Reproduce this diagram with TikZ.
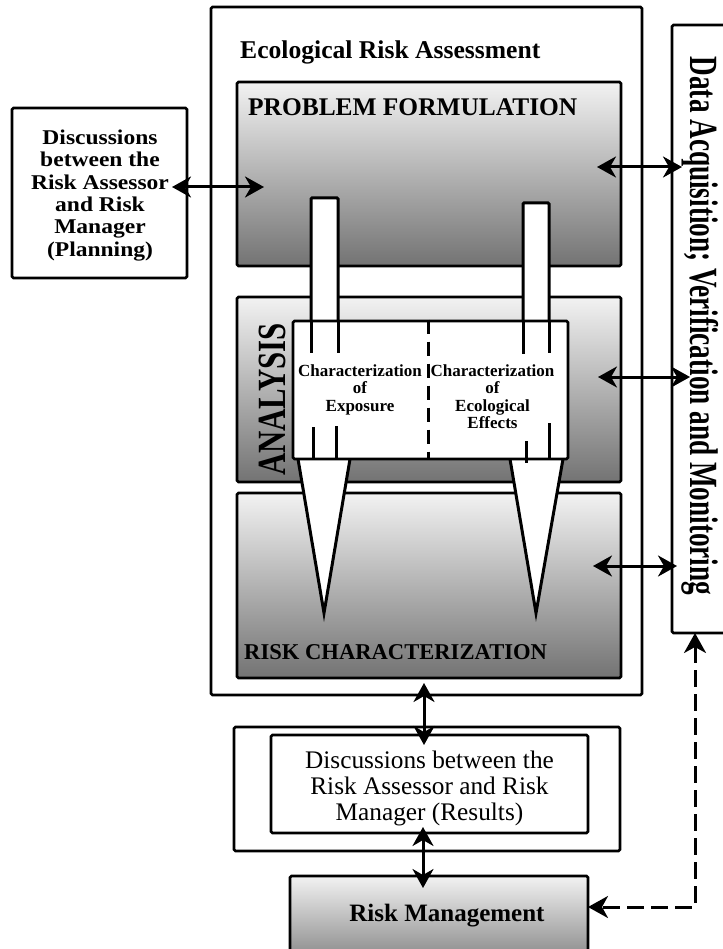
\documentclass[tikz,border=0pt]{standalone}
\usepackage{fontspec}
\setmainfont{Liberation Serif}
\usetikzlibrary{arrows.meta}
\begin{document}
\begin{tikzpicture}[x=1pt,y=-1pt,
  box/.style={draw, line width=2.6pt, rounded corners=1.5pt, inner sep=0pt},
  shadedbox/.style={box, top color=black!5, bottom color=black!55},
  wbox/.style={box, fill=white},
  lbl/.style={inner sep=0pt, font=\bfseries},
  thk/.style={line width=3pt},
  dbl/.style={line width=3pt, {Stealth[length=19pt,width=21pt,inset=6pt]}-{Stealth[length=19pt,width=21pt,inset=6pt]}},
  dsharrow/.style={line width=3pt, dash pattern=on 17pt off 7pt, {Stealth[length=20pt,width=22pt,inset=6pt]}-{Stealth[length=20pt,width=22pt,inset=6pt]}}
]
\useasboundingbox (0,0) rectangle (722,949);
\fill[white] (0,0) rectangle (722,949);

% outer frames
\node[wbox, minimum width=431pt, minimum height=688pt] (era) at (426.5,351) {};
\node[wbox, minimum width=60pt, minimum height=608pt] (da) at (702,329) {};
\node[lbl, font=\fontsize{40}{40}\selectfont\bfseries, rotate=-90, anchor=base] (datxt) at (690,326) {\scalebox{0.68}[1]{Data Acquisition; Verification and Monitoring}};
\node[wbox, minimum width=175pt, minimum height=170pt] (pl) at (99.5,193) {};
\node[lbl, font=\fontsize{21}{22.4}\selectfont\bfseries, anchor=north] (pltxt) at (100,128.5) {\scalebox{1.12}[1]{\begin{tabular}{@{}c@{}}Discussions\\between the\\Risk Assessor\\and Risk\\Manager\\(Planning)\end{tabular}}};

\node[lbl, font=\fontsize{25.6}{25.6}\selectfont\bfseries, anchor=base west] (eratxt) at (240,59) {Ecological Risk Assessment};

% shaded stages
\node[shadedbox, minimum width=384pt, minimum height=184pt] (pf) at (429,174) {};
\node[shadedbox, minimum width=384pt, minimum height=185pt] (an) at (429,389.5) {};
\node[shadedbox, minimum width=384pt, minimum height=185pt] (rc) at (429,585.5) {};
\node[lbl, font=\fontsize{25.4}{25.4}\selectfont\bfseries, anchor=base west] (pftxt) at (248,116) {PROBLEM FORMULATION};
\node[lbl, font=\fontsize{22.6}{22.6}\selectfont\bfseries, anchor=base west] (rctxt) at (244,659) {RISK CHARACTERIZATION};
\node[lbl, font=\fontsize{40}{40}\selectfont\bfseries, rotate=90, anchor=base] (antxt) at (285,399.5) {\scalebox{0.77}[1]{ANALYSIS}};

% spikes
\draw[thk, fill=white] (298,459) -- (324,613) -- (350,459);
\draw[thk, fill=white] (510,459) -- (536,613) -- (563,459);
% pipes
\draw[thk, fill=white, rounded corners=1pt] (311,322) -- (311,198) -- (338,198) -- (338,322);
\draw[thk, fill=white, rounded corners=1pt] (523,322) -- (523,203) -- (549,203) -- (549,322);

% characterization box
\node[wbox, minimum width=275pt, minimum height=138pt] (ch) at (430.5,390) {};
\draw[thk, dash pattern=on 14pt off 8pt] (ch.north) ++(-2.5,0) coordinate (dvt) -- (dvt |- ch.south);
\draw[thk] (311,321) -- (311,353) (338,321) -- (338,353);
\draw[thk] (523,321) -- (523,354) (549,321) -- (549,353);
\draw[thk] (313,427) -- (313,460) (336,426) -- (336,459);
\draw[thk] (526,441) -- (526,463) (549,423) -- (549,459);
\node[lbl, font=\fontsize{17}{17.5}\selectfont\bfseries, align=center, anchor=north] (chl) at (360,364.5) {Characterization\\of\\Exposure};
\node[lbl, font=\fontsize{17}{17.5}\selectfont\bfseries, align=center, anchor=north] (chr) at (492.5,364.5) {Characterization\\of\\Ecological\\Effects};

% results
\node[wbox, minimum width=386pt, minimum height=124pt] (ro) at (427,789) {};
\node[wbox, minimum width=317pt, minimum height=98pt] (ri) at (429.5,784) {};
\node[inner sep=0pt, font=\fontsize{25.3}{26}\selectfont, align=center, anchor=north] (ritxt) at (429.5,751) {Discussions between the\\Risk Assessor and Risk\\Manager (Results)};
\node[box, top color=black!5, bottom color=black!42, minimum width=298pt, minimum height=75pt] (rm) at (439,913.5) {};
\node[lbl, font=\fontsize{25}{25}\selectfont\bfseries, anchor=base] (rmtxt) at (447,921) {Risk Management};

% connectors
\coordinate (a1s) at (172,187); \coordinate (a1e) at (264,187);
\draw[dbl] (a1s) -- (a1e);
\coordinate (a2s) at (597,167); \coordinate (a2e) at (682,167);
\draw[dbl] (a2s) -- (a2e);
\coordinate (a3s) at (598,377); \coordinate (a3e) at (690,377);
\draw[dbl] (a3s) -- (a3e);
\coordinate (a4s) at (593,566); \coordinate (a4e) at (677,566);
\draw[dbl] (a4s) -- (a4e);
\coordinate (a5s) at (424,683); \coordinate (a5e) at (424,745);
\draw[dbl] (a5s) -- (a5e);
\coordinate (a6s) at (423,827); \coordinate (a6e) at (423,888);
\draw[dbl] (a6s) -- (a6e);
\coordinate (dtop) at (695,633); \coordinate (dcorner) at (695,907); \coordinate (dend) at (588,907);
\draw[dsharrow] (dtop) -- (dcorner) -- (dend);
\end{tikzpicture}
\end{document}
